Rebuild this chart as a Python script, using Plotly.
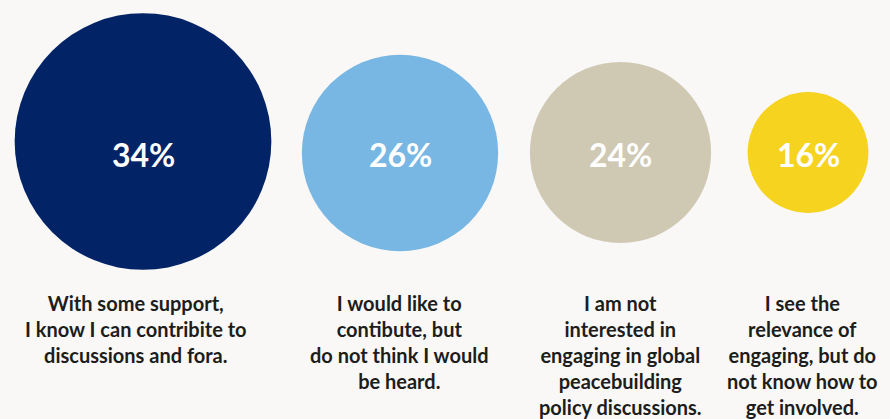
import plotly.graph_objects as go

# Data
categories = [
    "With some support,<br>I know I can contribite to<br>discussions and fora.",
    "I would like to<br>contibute, but<br>do not think I would<br>be heard.",
    "I am not<br>interested in<br>engaging in global<br>peacebuilding<br>policy discussions.",
    "I see the<br>relevance of<br>engaging, but do<br>not know how to<br>get involved.",
]
values = [34, 26, 24, 16]
colors = ["#022366", "#78b7e3", "#cfc8b3", "#f6d31f"]

# Layout positions (pixel-like coordinates)
cx = [143, 400, 620.5, 808]
cy = [141.5, 153, 152.5, 152.5]
label_x = [136, 399, 620.5, 802]
px_per_point = 7.55

fig = go.Figure()
fig.add_trace(go.Scatter(
    x=cx, y=cy, mode="markers",
    marker=dict(size=values, sizemode="diameter", sizeref=1 / px_per_point,
                color=colors, line=dict(width=0), opacity=1),
    hoverinfo="skip", showlegend=False,
))

for i, v in enumerate(values):
    fig.add_annotation(x=cx[i], y=154, text=f"{v}%", showarrow=False,
                       xanchor="center", yanchor="middle",
                       font=dict(family="Lato", size=32, color="white", weight="bold"))
    fig.add_annotation(x=label_x[i], y=289, text=categories[i], showarrow=False,
                       xanchor="center", yanchor="top", align="center",
                       font=dict(family="Lato", size=20, color="#1d1d1b", weight="bold"))

fig.update_layout(
    width=890, height=419,
    margin=dict(l=0, r=0, t=0, b=0),
    paper_bgcolor="#f9f8f7", plot_bgcolor="#f9f8f7",
    xaxis=dict(range=[0, 890], visible=False, fixedrange=True),
    yaxis=dict(range=[419, 0], visible=False, fixedrange=True),
)
fig.write_html("out.html")
